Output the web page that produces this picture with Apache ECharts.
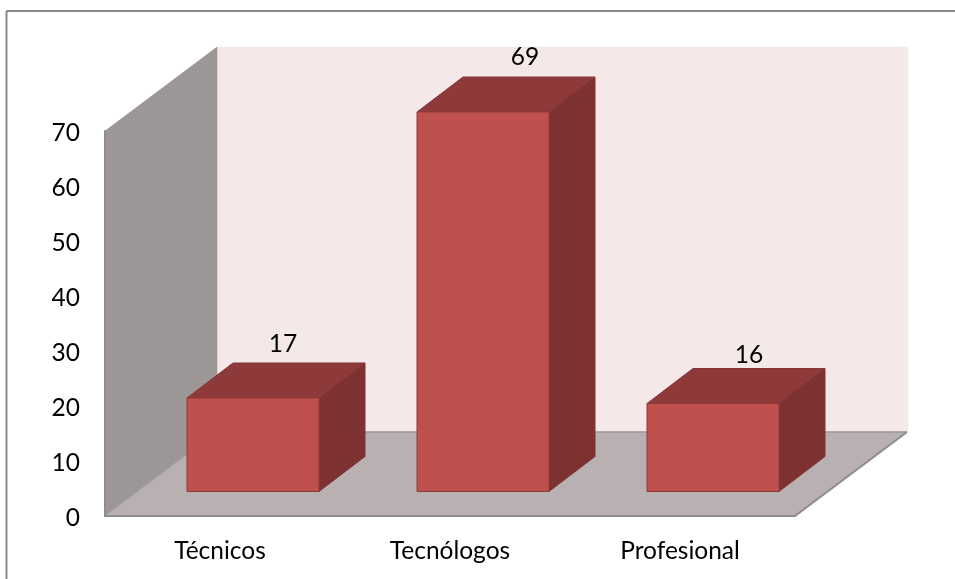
<!DOCTYPE html>
<html><head><meta charset="utf-8">
<style>html,body{margin:0;padding:0;background:#fff}#c{width:955px;height:579px}</style>
<script src="https://cdn.jsdelivr.net/npm/echarts@6/dist/echarts.min.js"></script>
</head><body><div id="c"></div>
<script>
const categories = ['Técnicos', 'Tecnólogos', 'Profesional'];
const values = [17, 69, 16];
const yMax = 70;
const yStep = 10;
const labelShiftX = [30, 42, 36];
const labelShiftY = [-54, -55, -48];

const FONT = 'Lato';
const FONT_SIZE = 24.5;
const room = {dx: 112, dy: -84};
const barStart = {dx: 33, dy: -24.5};
const barDepth = {dx: 46, dy: -35};
const barWidth = 132;

function poly(points, fill, stroke, z2) {
  return {type: 'polygon', z2: z2 || 0, shape: {points},
    style: {fill, stroke: stroke || fill, lineWidth: stroke ? 1 : 0.5, lineJoin: 'round'}};
}

function renderRoom(params, api) {
  const halfBand = api.size([1, 0])[0] / 2;
  const left = api.coord([0, 0])[0] - halfBand;
  const right = api.coord([categories.length - 1, 0])[0] + halfBand;
  const bottom = api.coord([0, 0])[1];
  const top = api.coord([0, yMax])[1];
  const dx = room.dx, dy = room.dy;
  return {type: 'group', children: [
    poly([[left + dx, top + dy], [right + dx + 1, top + dy], [right + dx + 1, bottom + dy], [left + dx, bottom + dy]], '#f4e8e8'),
    poly([[left, top], [left + dx, top + dy], [left + dx, bottom + dy], [left, bottom]], '#9c9696'),
    poly([[left, bottom], [left + dx, bottom + dy], [right + dx, bottom + dy], [right, bottom]], '#b9b1b1'),
    {type: 'line', shape: {x1: left, y1: bottom, x2: left + dx, y2: bottom + dy}, style: {stroke: '#a3a3a3', lineWidth: 1}},
    {type: 'line', shape: {x1: left + dx, y1: bottom + dy, x2: right + dx, y2: bottom + dy}, style: {stroke: '#9a9a9a', lineWidth: 1.5}},
    {type: 'line', shape: {x1: right + dx, y1: bottom + dy, x2: right, y2: bottom}, style: {stroke: '#8c8c8c', lineWidth: 2}}
  ]};
}

function renderBar(params, api) {
  const i = api.value(0), v = api.value(1);
  const base = api.coord([i, 0]);
  const tip = api.coord([i, v]);
  const x0 = base[0] + barStart.dx - barWidth / 2, x1 = x0 + barWidth;
  const yb = base[1] + barStart.dy, yt = tip[1] + barStart.dy;
  const dx = barDepth.dx, dy = barDepth.dy;
  return {type: 'group', children: [
    poly([[x1, yt], [x1 + dx, yt + dy], [x1 + dx, yb + dy], [x1, yb]], '#7d3131', '#843535'),
    poly([[x0, yt], [x0 + dx, yt + dy], [x1 + dx, yt + dy], [x1, yt]], '#8f3a3a', '#843535'),
    poly([[x0, yt], [x1, yt], [x1, yb], [x0, yb]], '#c0504d', '#8c3a38'),
    {type: 'text', style: {x: base[0] + barStart.dx + labelShiftX[i], y: yt + labelShiftY[i],
      text: String(v), font: FONT_SIZE + 'px ' + FONT, fill: '#000', align: 'center', verticalAlign: 'middle'}}
  ]};
}

const chart = echarts.init(document.getElementById('c'), null, {renderer: 'canvas'});
chart.setOption({
  animation: false,
  backgroundColor: '#ffffff',
  graphic: [
    {type: 'line', shape: {x1: 6.5, y1: 11, x2: 955, y2: 11}, style: {stroke: '#898989', lineWidth: 2}},
    {type: 'line', shape: {x1: 6.5, y1: 11, x2: 6.5, y2: 579}, style: {stroke: '#898989', lineWidth: 2}}
  ],
  grid: {left: 105, top: 131, width: 690, height: 385, containLabel: false},
  xAxis: {type: 'category', data: categories, z: 5,
    axisLine: {show: true, lineStyle: {color: '#8c8c8c', width: 2}},
    axisTick: {show: false}, splitLine: {show: false},
    axisLabel: {color: '#000', fontFamily: FONT, fontSize: FONT_SIZE, margin: 23}},
  yAxis: {type: 'value', min: 0, max: yMax, interval: yStep, z: 5,
    axisLine: {show: true, lineStyle: {color: '#8c8c8c', width: 2}},
    axisTick: {show: false}, splitLine: {show: false},
    axisLabel: {margin: 25, formatter: '{v|{value}}',
      rich: {v: {color: '#000', fontFamily: FONT, fontSize: FONT_SIZE, padding: [4, 0, 0, 0]}}}},
  series: [
    {type: 'custom', coordinateSystem: 'cartesian2d', clip: false, silent: true, z: 1,
      data: [[0, 0]], renderItem: renderRoom},
    {type: 'custom', coordinateSystem: 'cartesian2d', clip: false, z: 2,
      encode: {x: 0, y: 1}, data: values.map((v, i) => [i, v]), renderItem: renderBar}
  ]
});
</script></body></html>
